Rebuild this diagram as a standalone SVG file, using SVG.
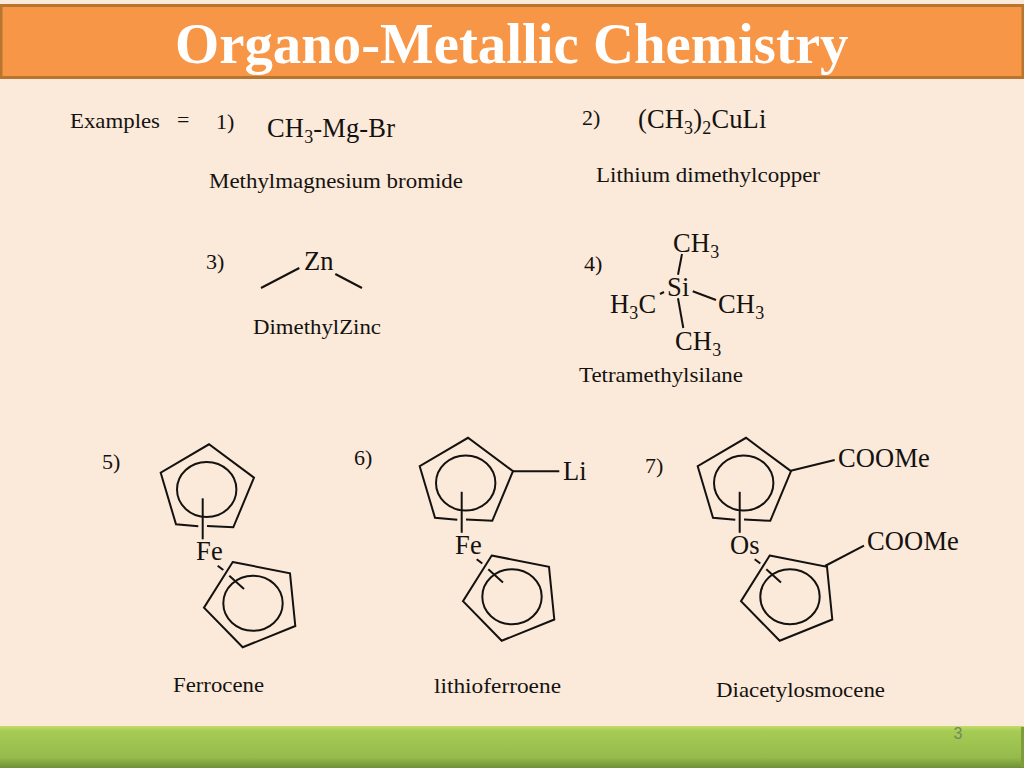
<svg xmlns="http://www.w3.org/2000/svg" xmlns:xlink="http://www.w3.org/1999/xlink" width="1024" height="768" viewBox="0 0 1024 768">
<style>
text{font-family:"Liberation Serif","Times New Roman",serif;fill:#141210}
.b{fill:none;stroke:#141210;stroke-width:2;stroke-linecap:butt;stroke-linejoin:miter}
.s{font-size:18px}
.m{font-size:26.500px;letter-spacing:.15px}
.l{font-size:22px}
.n{font-size:22px}
</style>
<defs>
<linearGradient id="g" x1="0" y1="0" x2="0" y2="1">
<stop offset="0" stop-color="#c3dc68"/><stop offset=".12" stop-color="#a6cb55"/><stop offset=".75" stop-color="#96bb4c"/><stop offset="1" stop-color="#6f8f35"/>
</linearGradient>
<g id="sandwich">
<polyline class="b" points="198.300,526.300 176,524.300 160.700,472.700 209,444.300 254,477.700 233.300,527.300 207,526"/>
<ellipse class="b" cx="206.700" cy="489.500" rx="29.700" ry="27.500"/>
<line class="b" x1="202.700" y1="498.300" x2="202.700" y2="539.300"/>
<polygon class="b" points="232.700,562 290,573.300 295.300,626 242.700,647.300 204,607.700"/>
<ellipse class="b" cx="253" cy="603.300" rx="29.700" ry="27.500"/>
<line class="b" x1="217.700" y1="565.700" x2="223.300" y2="570"/>
<line class="b" x1="229.300" y1="575.700" x2="244" y2="589"/>
</g>
</defs>
<rect id="background" width="1024" height="768" fill="#fbe9d9"/>
<g id="title">
<rect x="1" y="5.500" width="1022" height="72" fill="#f79646" stroke="#b8752f" stroke-width="3"/>
<text x="175" y="63" font-size="56.800" font-weight="bold" style="fill:#fff">Organo-Metallic Chemistry</text>
</g>
<g id="footer">
<rect y="726" width="1024" height="42" fill="url(#g)"/>
<rect x="1021" y="727" width="3" height="40" fill="#7e9c3c"/>
<text x="953.500" y="739" font-size="16" style="font-family:'Liberation Sans',sans-serif;fill:#72895f">3</text>
</g>
<g id="intro">
<text class="n" x="70" y="128" textLength="90" lengthAdjust="spacingAndGlyphs">Examples</text>
<text class="n" x="177" y="127">=</text>
</g>
<g id="compound-1">
<text class="n" x="216" y="129">1)</text>
<text class="m" x="267" y="137">CH<tspan class="s" dy="6">3</tspan><tspan dy="-6">-Mg-Br</tspan></text>
<text class="l" x="209" y="187.500" textLength="254" lengthAdjust="spacingAndGlyphs">Methylmagnesium bromide</text>
</g>
<g id="compound-2">
<text class="n" x="582" y="125">2)</text>
<text class="m" x="638" y="128">(CH<tspan class="s" dy="6">3</tspan><tspan dy="-6">)</tspan><tspan class="s" dy="6">2</tspan><tspan dy="-6">CuLi</tspan></text>
<text class="l" x="596" y="181.500" textLength="224" lengthAdjust="spacingAndGlyphs">Lithium dimethylcopper</text>
</g>
<g id="compound-3">
<text class="n" x="206" y="268.500">3)</text>
<text class="m" x="304" y="270">Zn</text>
<text class="n" x="253" y="333.500" textLength="128" lengthAdjust="spacingAndGlyphs">DimethylZinc</text>
<g id="bonds-3">
<line class="b" x1="261" y1="288" x2="299.300" y2="268"/>
<line class="b" x1="335.300" y1="274" x2="362" y2="288"/>
</g>
</g>
<g id="compound-4">
<text class="n" x="584" y="271">4)</text>
<text class="m" x="673" y="252">CH<tspan class="s" dy="6">3</tspan></text>
<text class="m" x="667" y="296">Si</text>
<text class="m" x="610" y="313">H<tspan class="s" dy="6">3</tspan><tspan dy="-6">C</tspan></text>
<text class="m" x="718" y="313">CH<tspan class="s" dy="6">3</tspan></text>
<text class="m" x="675" y="350">CH<tspan class="s" dy="6">3</tspan></text>
<text class="n" x="579" y="382" textLength="164" lengthAdjust="spacingAndGlyphs">Tetramethylsilane</text>
<g id="bonds-4">
<line class="b" x1="682" y1="254" x2="678" y2="274.700"/>
<line class="b" x1="660" y1="294" x2="664" y2="292"/>
<line class="b" x1="692.700" y1="291.300" x2="716" y2="300"/>
<line class="b" x1="678" y1="298.300" x2="683.300" y2="328"/>
</g>
</g>
<g id="compound-5">
<text class="n" x="102" y="469">5)</text>
<use href="#sandwich" xlink:href="#sandwich"/>
<text class="m" x="196" y="560">Fe</text>
<text class="n" x="173" y="691.500" textLength="91" lengthAdjust="spacingAndGlyphs">Ferrocene</text>
</g>
<g id="compound-6">
<text class="n" x="354" y="465">6)</text>
<use href="#sandwich" xlink:href="#sandwich" transform="translate(259 -6.500)"/>
<line class="b" x1="512.700" y1="471.300" x2="559.300" y2="471.300"/>
<text class="m" x="563" y="480">Li</text>
<text class="m" x="455" y="553.500">Fe</text>
<text class="n" x="434" y="692.500" textLength="127" lengthAdjust="spacingAndGlyphs">lithioferroene</text>
</g>
<g id="compound-7">
<text class="n" x="645" y="473">7)</text>
<use href="#sandwich" xlink:href="#sandwich" transform="translate(537 -6.500)"/>
<line class="b" x1="790.700" y1="470.700" x2="834.700" y2="460"/>
<line class="b" x1="825" y1="566" x2="864" y2="545.700"/>
<text class="m" x="838" y="466.500">COOMe</text>
<text class="m" x="867" y="549.500">COOMe</text>
<text class="m" x="730" y="553.500">Os</text>
<text class="n" x="716" y="696.500" textLength="169" lengthAdjust="spacingAndGlyphs">Diacetylosmocene</text>
</g>
</svg>
